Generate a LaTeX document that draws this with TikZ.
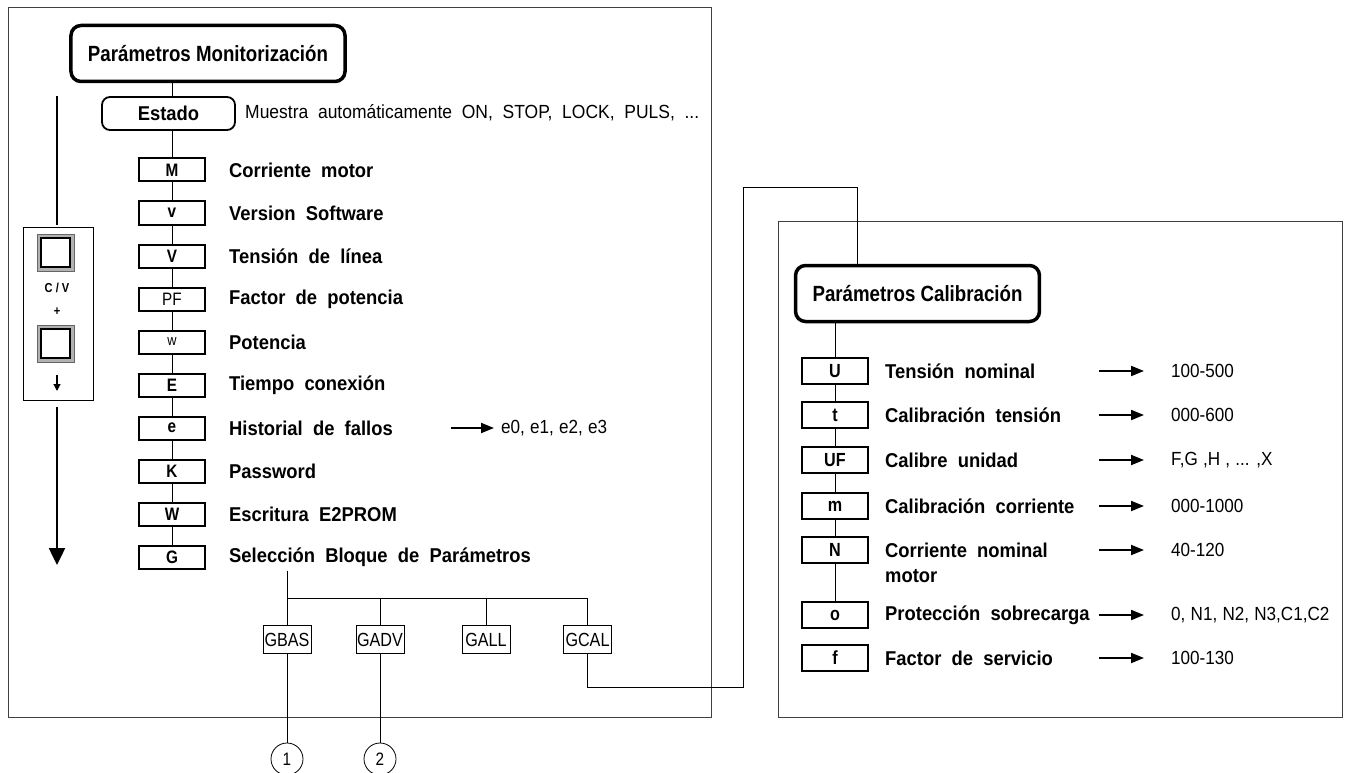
\documentclass[tikz,border=0pt]{standalone}
\usepackage{fontspec}
\setmainfont{Liberation Sans}[FakeStretch=0.85]
\newfontfamily\lblfont{Liberation Sans}[FakeStretch=0.92, WordSpace=2]
\newfontfamily\valfont{Liberation Sans}[FakeStretch=0.9, WordSpace=1.1]
\usetikzlibrary{arrows.meta}

\tikzset{
  frame/.style={draw=black!75, line width=1pt},
  titbox/.style={draw, line width=3.5pt, rounded corners=10pt, inner xsep=17pt, minimum height=56pt, font=\bfseries\fontsize{22}{26}\selectfont},
  estbox/.style={draw, line width=1.8pt, rounded corners=8pt, minimum width=133pt, minimum height=33pt, font=\lblfont\bfseries\fontsize{20}{22}\selectfont},
  pbox/.style={draw, line width=2pt, minimum width=66pt, minimum height=23pt, inner sep=0pt, font=\bfseries\fontsize{18}{20}\selectfont},
  cbox/.style={draw, line width=2pt, minimum width=66pt, minimum height=26pt, inner sep=0pt, font=\bfseries\fontsize{19}{21}\selectfont},
  grp/.style={draw, line width=0.8pt, minimum width=48pt, minimum height=28pt, inner sep=0pt, font=\fontsize{19}{21}\selectfont},
  num/.style={draw, circle, line width=0.8pt, minimum size=32pt, inner sep=0pt, font=\fontsize{18}{20}\selectfont},
  txt/.style={anchor=west, inner sep=0pt, font=\lblfont\bfseries\fontsize{20}{25}\selectfont},
  val/.style={anchor=west, inner sep=0pt, font=\valfont\fontsize{19}{22}\selectfont},
  link/.style={line width=0.8pt},
  arr/.style={line width=2pt, -{Triangle[length=13pt,width=10pt]}},
  btn/.style={draw=black!60, fill=black!30, line width=0.8pt, minimum size=37pt, inner sep=0pt},
  btnin/.style={draw, fill=white, line width=2pt, minimum size=29pt, inner sep=0pt},
  key/.style={font=\bfseries\fontsize{13}{15}\selectfont, inner sep=0pt}
}

\begin{document}
\begin{tikzpicture}[x=1pt,y=-1pt]
  \useasboundingbox (0,0) rectangle (1345,773);

  % ---- monitorizacion ----
  \draw[frame] (8,8) rectangle (711,717);
  \node[titbox] (mon) at (208,53.5) {Parámetros Monitorización};
  \node[estbox] (est) at (168.5,113.5) {Estado};
  \node[val, font=\lblfont\fontsize{19}{22}\selectfont] (muestra) at (245,113) {Muestra automáticamente ON, STOP, LOCK, PULS, ...};

  \node[pbox] (pM) at (172,170) {M};
  \node[txt] (tM) at (229,170) {Corriente motor};
  \node[pbox] (pv) at (172,213) {v};
  \node[txt] (tv) at (229,213) {Version Software};
  \node[pbox] (pV) at (172,256) {V};
  \node[txt] (tV) at (229,256) {Tensión de línea};
  \node[pbox, font=\fontsize{18}{20}\selectfont] (pPF) at (172,299) {PF};
  \node[txt] (tPF) at (229,299) {Factor de potencia};
  \node[pbox, font=\fontsize{15}{18}\selectfont] (pw) at (172,342) {w};
  \node[txt] (tw) at (229,342) {Potencia};
  \node[pbox] (pE) at (172,385) {E};
  \node[txt] (tE) at (229,385) {Tiempo conexión};
  \node[pbox] (pe) at (172,428) {e};
  \node[txt] (te) at (229,428) {Historial de fallos};
  \node[pbox] (pK) at (172,471) {K};
  \node[txt] (tK) at (229,471) {Password};
  \node[pbox] (pW) at (172,514) {W};
  \node[txt] (tW) at (229,514) {Escritura E2PROM};
  \node[pbox] (pG) at (172,557) {G};
  \node[txt] (tG) at (229,557) {Selección Bloque de Parámetros};

  \draw[link] (mon.south -| pM) -- (est.north -| pM);
  \draw[link] (est.south -| pM) -- (pM) -- (pv) -- (pV) -- (pPF) -- (pw) -- (pE) -- (pe) -- (pK) -- (pW) -- (pG);

  \node[val] (ve) at (501,428) {e0, e1, e2, e3};
  \draw[arr] ([xshift=-50pt]ve.west) -- ([xshift=-7pt]ve.west);

  % grupos
  \node[grp] (gbas) at (287,639.5) {GBAS};
  \node[grp] (gadv) at (380,639.5) {GADV};
  \node[grp] (gall) at (486,639.5) {GALL};
  \node[grp] (gcal) at (587.5,639.5) {GCAL};
  \coordinate (bus) at (287,598);
  \draw[link] ([yshift=-4pt]tG.south -| gbas) -- (gbas);
  \draw[link] (gbas.north |- bus) -| (gcal);
  \draw[link] (gadv) -- (gadv |- bus);
  \draw[link] (gall) -- (gall |- bus);

  \node[num] (n1) at (287,759) {1};
  \node[num] (n2) at (380,759) {2};
  \draw[link] (gbas) -- (n1);
  \draw[link] (gadv) -- (n2);

  % teclas
  \coordinate (atop) at (57,96);
  \coordinate (abot) at (57,565);
  \node[draw, line width=0.8pt, minimum width=70pt, minimum height=173pt] (pan) at (58,313.5) {};
  \draw[line width=2.5pt] (atop) -- ([yshift=2pt]pan.north -| atop);
  \draw[line width=2.5pt, -{Triangle[length=17pt,width=16pt]}] ([yshift=-7pt]pan.south -| abot) -- (abot);
  \node[btn] (b1) at (55.5,252.5) {};
  \node[btnin] (b1i) at (b1) {};
  \node[key] (cv) at (57,288) {C / V};
  \node[key] (plus) at (57,312) {+};
  \node[btn] (b2) at (55.5,343.5) {};
  \node[btnin] (b2i) at (b2) {};
  \coordinate (d1) at (57,375);
  \coordinate (d2) at (57,391);
  \draw[line width=1.2pt, -{Triangle[length=7pt,width=7pt]}] (d1) -- (d2);

  % ---- calibracion ----
  \draw[frame] (778,221) rectangle (1342,717);
  \node[titbox] (cal) at (917.5,293.5) {Parámetros Calibración};

  \node[cbox] (cU) at (835,371) {U};
  \node[txt] (tU) at (885,371) {Tensión nominal};
  \node[val] (vU) at (1171,371) {100-500};
  \node[cbox] (ct) at (835,415) {t};
  \node[txt] (tt) at (885,415) {Calibración tensión};
  \node[val] (vt) at (1171,415) {000-600};
  \node[cbox] (cUF) at (835,460) {UF};
  \node[txt] (tUF) at (885,460) {Calibre unidad};
  \node[val] (vUF) at (1171,460) {F,G ,H , ... ,X};
  \node[cbox] (cm) at (835,506) {m};
  \node[txt] (tm) at (885,506) {Calibración corriente};
  \node[val] (vm) at (1171,506) {000-1000};
  \node[cbox] (cN) at (835,550) {N};
  \node[txt, anchor=base west] (tN) at (885,557) {\begin{tabular}[t]{@{}l@{}}Corriente nominal\\motor\end{tabular}};
  \node[val] (vN) at (1171,550) {40-120};
  \node[cbox] (co) at (835,615) {o};
  \node[txt] (to) at (885,615) {Protección sobrecarga};
  \node[val] (vo) at (1171,615) {0, N1, N2, N3,C1,C2};
  \node[cbox] (cf) at (835,658) {f};
  \node[txt] (tf) at (885,658) {Factor de servicio};
  \node[val] (vf) at (1171,658) {100-130};

  \draw[link] (cal.south -| cU) -- (cU) -- (ct) -- (cUF) -- (cm) -- (cN) -- (co);
  \foreach \v in {vU,vt,vUF,vm,vN,vo,vf}
    \draw[arr] ([xshift=-72pt]\v.west) -- ([xshift=-27pt]\v.west);

  % enlace GCAL
  \coordinate (k1) at (743,687);
  \coordinate (k2) at (857,187);
  \draw[link] (gcal) |- (k1) |- (k2) -- (k2 |- cal.north);
\end{tikzpicture}
\end{document}
